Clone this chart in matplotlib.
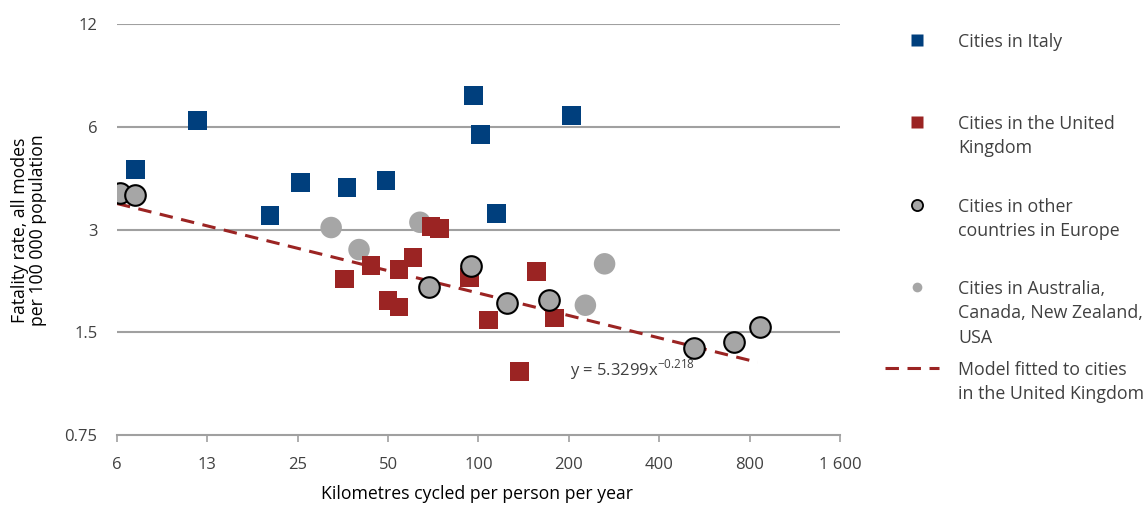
import numpy as np
import matplotlib
matplotlib.use("Agg")
import matplotlib.pyplot as plt
from matplotlib.lines import Line2D

plt.rcParams["font.family"] = ["Open Sans", "DejaVu Sans"]

# km cycled per person per year vs fatality rate per 100 000
ITALY_X = [7.2, 11.6, 20.2, 25.5, 36.5, 49.2, 96.4, 101.7, 115, 204]
ITALY_Y = [4.50, 6.27, 3.30, 4.12, 3.99, 4.18, 7.42, 5.70, 3.34, 6.48]

UK_X = [35.7, 43.8, 49.9, 54.3, 54.3, 60.5, 69.4, 74.3, 93.5, 108, 156, 137, 179]
UK_Y = [2.15, 2.35, 1.86, 1.78, 2.29, 2.48, 3.06, 3.02, 2.17, 1.63, 2.26, 1.15, 1.65]

EUROPE_X = [6.42, 7.2, 68.3, 94.2, 124, 172, 524, 711, 868]
EUROPE_Y = [3.85, 3.78, 2.03, 2.35, 1.83, 1.86, 1.35, 1.40, 1.55]

OTHER_X = [32.3, 40.0, 63.8, 227, 263]
OTHER_Y = [3.04, 2.62, 3.15, 1.80, 2.38]

FIT_A = 5.3299
FIT_B = -0.218

X_TICKS = [6.25, 12.5, 25, 50, 100, 200, 400, 800, 1600]
X_LABELS = ["6", "13", "25", "50", "100", "200", "400", "800", "1 600"]
Y_TICKS = [0.75, 1.5, 3, 6, 12]
Y_LABELS = ["0.75", "1.5", "3", "6", "12"]

BLUE = "#003F7D"
RED = "#9B2423"
GREY = "#A6A6A6"
GRID = "#A0A0A0"
TEXT = "#404040"
DASH = (0, (4.4, 2.8))

W, H = 1146, 505
fig = plt.figure(figsize=(W / 100, H / 100), dpi=100)
ax = fig.add_axes([117 / W, 1 - 435 / H, (840 - 117) / W, (435 - 24) / H])

ax.set_xscale("log", base=2)
ax.set_yscale("log", base=2)
ax.set_xlim(X_TICKS[0], X_TICKS[-1])
ax.set_ylim(Y_TICKS[0], Y_TICKS[-1])

for yv in Y_TICKS[1:]:
    ax.axhline(yv, color=GRID, lw=1.5, zorder=0)

fit_x = np.geomspace(X_TICKS[0], max(EUROPE_X) * 0.98, 50)
ax.plot(fit_x, FIT_A * fit_x ** FIT_B, color=RED, lw=2.2, ls=DASH, zorder=3)

ax.scatter(OTHER_X, OTHER_Y, s=240, marker="o", color=GREY, edgecolors="none", zorder=2)
ax.scatter(ITALY_X, ITALY_Y, s=180, marker="s", color=BLUE, edgecolors="none", zorder=2)
ax.scatter(UK_X, UK_Y, s=180, marker="s", color=RED, edgecolors="none", zorder=2)
ax.scatter(EUROPE_X, EUROPE_Y, s=220, marker="o", color=GREY, edgecolors="black",
           linewidths=1.5, zorder=4)

ax.text(202, 1.165, r"y = 5.3299x$^{\mathregular{-0.218}}$", fontsize=12, color=TEXT,
        ha="left", va="center")

ax.set_xticks(X_TICKS)
ax.set_xticklabels(X_LABELS)
ax.set_yticks(Y_TICKS)
ax.set_yticklabels(Y_LABELS)
ax.minorticks_off()
ax.tick_params(axis="x", length=5, width=1.2, color=GRID, direction="out",
               labelsize=12, labelcolor=TEXT, pad=11)
ax.tick_params(axis="y", length=0, labelsize=12, labelcolor=TEXT, pad=14)
for side in ["top", "right", "left"]:
    ax.spines[side].set_visible(False)
ax.spines["bottom"].set_color(GRID)
ax.spines["bottom"].set_linewidth(1.5)

fig.text(477 / W, 1 - 494 / H, "Kilometres cycled per person per year",
         fontsize=12.7, color="black", ha="center", va="center")
fig.text(29 / W, 1 - 230 / H, "Fatality rate, all modes\nper 100 000 population",
         fontsize=12.7, color="black", ha="center", va="center", rotation=90,
         linespacing=1.05)

# legend drawn by hand to keep Excel-like spacing
leg_x = 917 / W
txt_x = 958 / W
entries = [
    (40, "Cities in Italy", dict(marker="s", color=BLUE, ms=8, mec="none")),
    (122, "Cities in the United\nKingdom", dict(marker="s", color=RED, ms=8, mec="none")),
    (205, "Cities in other\ncountries in Europe",
     dict(marker="o", color=GREY, ms=8, mec="black", mew=1.3)),
    (287, "Cities in Australia,\nCanada, New Zealand,\nUSA",
     dict(marker="o", color=GREY, ms=7, mec="none")),
]
for y_px, label, style in entries:
    fig.add_artist(Line2D([leg_x], [1 - y_px / H], ls="none", **style))
    fig.text(txt_x, 1 - (y_px - 7) / H, label, fontsize=12.8, color=TEXT,
             ha="left", va="top", linespacing=1.45)
fig.add_artist(Line2D([885 / W, 939 / W], [1 - 368 / H] * 2, color=RED, lw=2.2, ls=DASH))
fig.text(txt_x, 1 - 361 / H, "Model fitted to cities\nin the United Kingdom",
         fontsize=12.8, color=TEXT, ha="left", va="top", linespacing=1.45)

fig.savefig("out.png", dpi=100)
